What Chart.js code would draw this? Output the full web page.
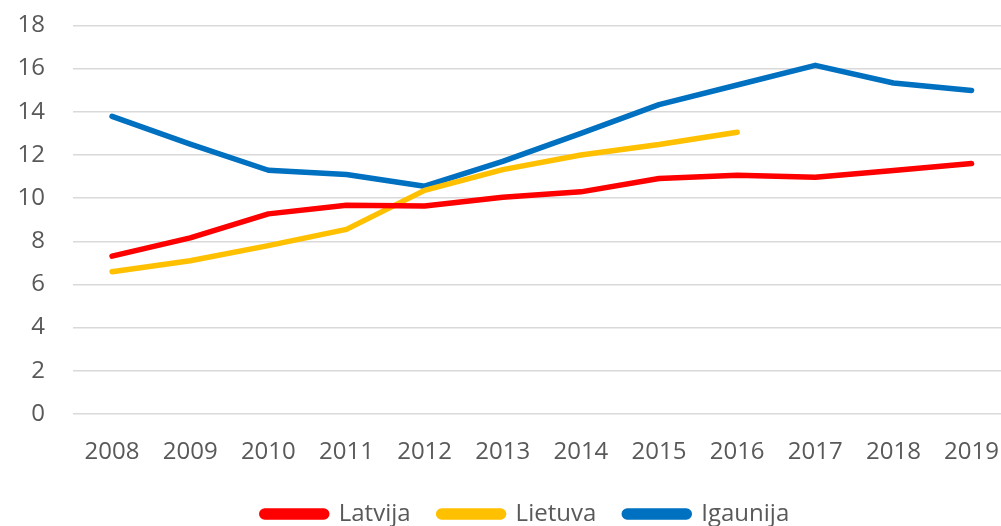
<!DOCTYPE html>
<html><head><meta charset="utf-8">
<script src="https://cdn.jsdelivr.net/npm/chart.js@4.4.0/dist/chart.umd.min.js"></script>
<style>html,body{margin:0;padding:0;background:#fff;overflow:hidden;width:1001px;height:526px;position:relative}
#c{position:absolute;left:0;top:-17px;width:1023px;height:553px}</style>
</head><body><canvas id="c" width="1023" height="553"></canvas>
<script>
const years = ["2008","2009","2010","2011","2012","2013","2014","2015","2016","2017","2018","2019"];
const latvija = [7.31, 8.16, 9.27, 9.67, 9.63, 10.04, 10.29, 10.91, 11.06, 10.97, 11.28, 11.6];
const lietuva = [6.59, 7.1, 7.8, 8.55, 10.36, 11.32, 12.0, 12.48, 13.05, null, null, null];
const igaunija = [13.79, 12.5, 11.29, 11.09, 10.55, 11.7, 13.0, 14.33, 15.24, 16.15, 15.33, 14.98];
const yTicks = [0,2,4,6,8,10,12,14,16,18];

const mk = (label, data, color) => ({label, data, borderColor: color, backgroundColor: color,
  borderWidth: 5.5, pointRadius: 0, borderCapStyle: 'round', borderJoinStyle: 'round', tension: 0, spanGaps: false});

const FONT = { family: 'Open Sans', size: 24 };

const shiftLegend = {
  id: 'shiftLegend',
  afterLayout(chart) {
    const lg = chart.legend;
    if (lg) { lg.left += 14; lg.right += 14; }
  }
};

new Chart(document.getElementById('c'), {
  type: 'line',
  data: { labels: years, datasets: [
    mk('Latvija', latvija, '#FF0000'),
    mk('Lietuva', lietuva, '#FFC000'),
    mk('Igaunija', igaunija, '#0070C0')
  ]},
  plugins: [shiftLegend],
  options: {
    responsive: false, animation: false,
    layout: { padding: 0 },
    plugins: {
      tooltip: { enabled: false },
      legend: { position: 'bottom',
        labels: { boxWidth: 65, boxHeight: 6, useBorderRadius: true, borderRadius: 3, padding: 28,
          color: '#595959', font: FONT } }
    },
    scales: {
      x: { offset: true,
        grid: { display: false, drawTicks: false }, border: { display: false },
        ticks: { color: '#595959', font: FONT, padding: 24, maxRotation: 0 },
        afterFit: s => { s.height = 60; } },
      y: { min: 0, max: 18,
        afterBuildTicks: s => { s.ticks = yTicks.map(v => ({value: v})); },
        grid: { color: '#d9d9d9', lineWidth: 1.5, drawTicks: false }, border: { display: false },
        ticks: { color: '#595959', font: FONT, padding: 28 },
        afterFit: s => { s.width = 73; } }
    }
  }
});
</script></body></html>
